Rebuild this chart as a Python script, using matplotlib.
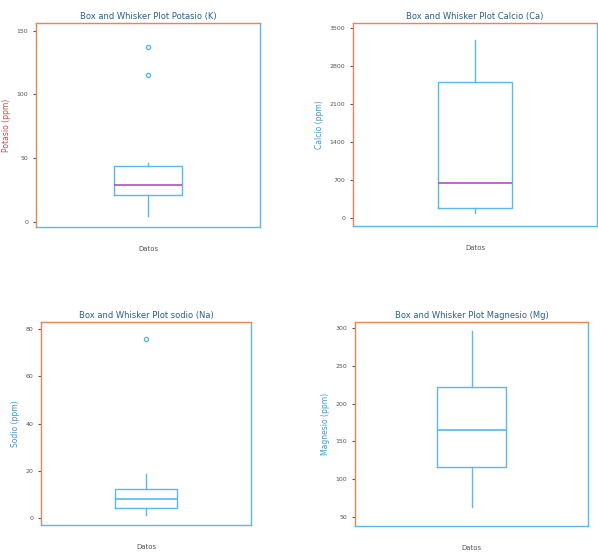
import matplotlib
matplotlib.use("Agg")
import matplotlib.pyplot as plt

titles = ["Box and Whisker Plot Potasio (K)", "Box and Whisker Plot Calcio (Ca)",
          "Box and Whisker Plot sodio (Na)", "Box and Whisker Plot Magnesio (Mg)"]
ylabels = ["Potasio (ppm)", "Calcio (ppm)", "Sodio (ppm)", "Magnesio (ppm)"]
xlabel = "Datos"
whislo = [5, 94, 1.1, 63]
q1 = [21, 175, 4.0, 116]
med = [29, 644, 7.9, 165]
q3 = [44, 2519, 12.1, 222]
whishi = [46, 3281, 18.6, 296]
fliers = [[115, 137], [], [76], []]
yticks = [[0, 50, 100, 150], [0, 700, 1400, 2100, 2800, 3500],
          [0, 20, 40, 60, 80], [50, 100, 150, 200, 250, 300]]
ylims = [(-4, 156), (-150, 3600), (-3, 83), (38, 308)]

W, H = 598, 558
rects = [(36, 23, 260, 227), (353, 23, 597, 226), (41, 322, 251, 525), (355, 322, 588, 526)]

fig = plt.figure(figsize=(5.98, 5.58), dpi=100)
blue = "#5ab8ea"
orange = "#e8845a"
purple = "#b04fc0"
medcols = [purple, purple, blue, blue]
for i in range(4):
    x0, y0, x1, y1 = rects[i]
    ax = fig.add_axes([x0 / W, 1 - y1 / H, (x1 - x0) / W, (y1 - y0) / H])
    st = dict(whislo=whislo[i], q1=q1[i], med=med[i], q3=q3[i], whishi=whishi[i],
              fliers=fliers[i], label=xlabel)
    ax.bxp([st], widths=0.3, showcaps=False,
           boxprops=dict(color=blue, lw=1),
           medianprops=dict(color=medcols[i], lw=1.2),
           whiskerprops=dict(color=blue, lw=1),
           flierprops=dict(marker="o", markersize=3, markerfacecolor="none",
                           markeredgecolor=blue))
    ax.set_ylim(*ylims[i])
    ax.set_yticks(yticks[i])
    ax.set_title(titles[i], fontsize=6, color="#2a5f8a", pad=3)
    ax.set_ylabel(ylabels[i], fontsize=5.5, color="#c0504d" if i == 0 else "#3a9ad0")
    ax.tick_params(axis="y", labelsize=4.5, length=2, colors="#555555")
    ax.tick_params(axis="x", labelsize=5, length=0, colors="#555555", pad=14)
    ax.spines["left"].set_color(orange)
    ax.spines["top"].set_color(orange)
    ax.spines["right"].set_color(blue)
    ax.spines["bottom"].set_color(blue)
    for s in ax.spines.values():
        s.set_linewidth(1)
fig.savefig("out.png", dpi=100)
